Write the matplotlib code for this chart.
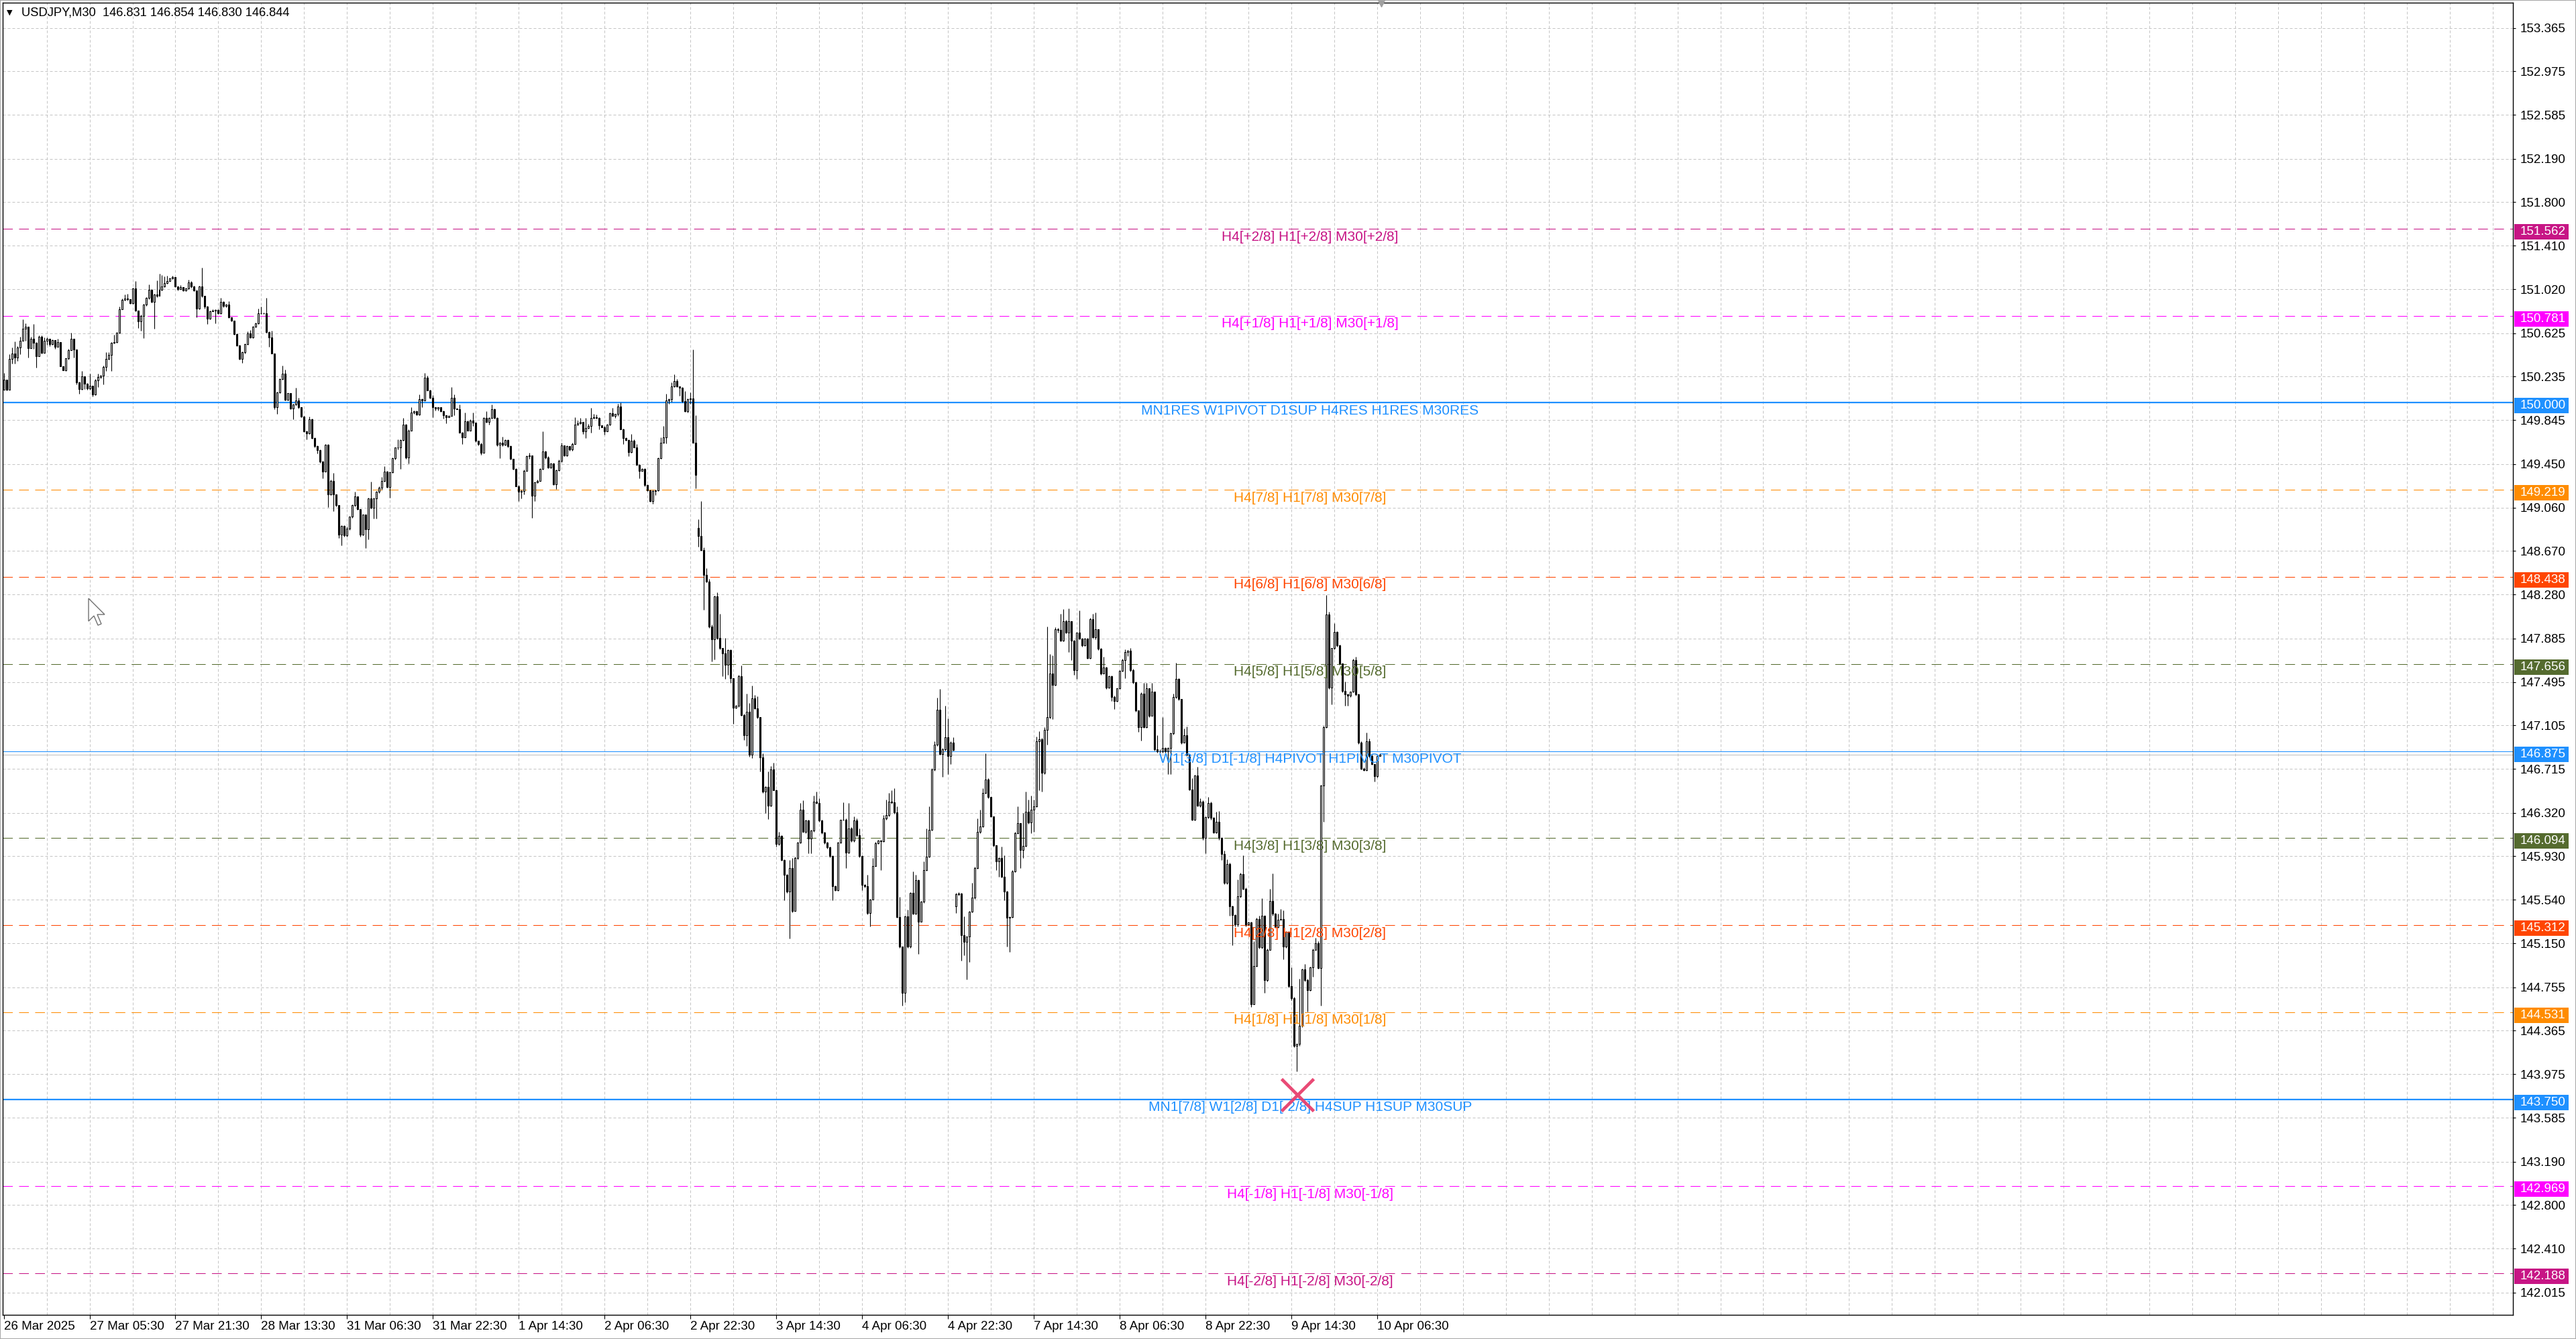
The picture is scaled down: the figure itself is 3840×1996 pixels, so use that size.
import numpy as np
import matplotlib
matplotlib.use("Agg")
import matplotlib.pyplot as plt
from matplotlib.patches import Rectangle, Polygon
from matplotlib.transforms import blended_transform_factory, offset_copy

# ---------------- data ----------------
symbol = "USDJPY,M30"
header_ohlc = "146.831 146.854 146.830 146.844"

closes = [
    150.210, 150.120, 150.394, 150.440, 150.404, 150.495, 150.555, 150.665, 150.685, 150.489,
    150.575, 150.541, 150.420, 150.595, 150.450, 150.555, 150.575, 150.525, 150.565, 150.505,
    150.545, 150.330, 150.294, 150.400, 150.475, 150.575, 150.481, 150.183, 150.123, 150.240,
    150.173, 150.127, 150.153, 150.073, 150.204, 150.234, 150.244, 150.324, 150.394, 150.428,
    150.541, 150.545, 150.629, 150.842, 150.926, 150.936, 150.930, 150.896, 151.026, 150.826,
    150.729, 150.782, 150.882, 150.940, 151.016, 150.906, 150.970, 150.962, 151.016, 151.042,
    151.077, 151.091, 151.117, 151.131, 151.042, 151.020, 151.036, 151.006, 151.026, 151.083,
    151.042, 151.010, 150.846, 151.042, 150.962, 150.866, 150.755, 150.822, 150.830, 150.836,
    150.806, 150.906, 150.870, 150.882, 150.765, 150.735, 150.615, 150.515, 150.394, 150.454,
    150.525, 150.625, 150.585, 150.685, 150.715, 150.806, 150.802, 150.802, 150.635, 150.585,
    150.440, 149.963, 150.093, 150.214, 150.260, 150.027, 150.087, 149.947, 149.983, 150.023,
    149.959, 149.878, 149.746, 149.726, 149.853, 149.686, 149.612, 149.577, 149.471, 149.385,
    149.622, 149.176, 149.301, 149.176, 149.080, 148.819, 148.895, 148.809, 148.869, 148.979,
    149.080, 149.160, 149.044, 148.819, 148.999, 148.863, 149.144, 149.060, 149.140, 149.204,
    149.240, 149.297, 149.381, 149.244, 149.377, 149.501, 149.598, 149.600, 149.666, 149.806,
    149.511, 149.752, 149.913, 149.927, 149.893, 150.033, 150.020, 150.228, 150.113, 150.043,
    149.959, 149.947, 149.959, 149.923, 149.889, 149.873, 149.883, 150.047, 149.947, 149.943,
    149.732, 149.692, 149.832, 149.752, 149.842, 149.820, 149.658, 149.632, 149.551, 149.866,
    149.826, 149.863, 149.943, 149.863, 149.622, 149.642, 149.622, 149.666, 149.612, 149.497,
    149.405, 149.250, 149.200, 149.210, 149.391, 149.521, 149.530, 149.164, 149.285, 149.301,
    149.405, 149.565, 149.511, 149.421, 149.457, 149.270, 149.397, 149.481, 149.618, 149.525,
    149.612, 149.580, 149.632, 149.802, 149.816, 149.826, 149.746, 149.772, 149.792, 149.866,
    149.873, 149.863, 149.798, 149.782, 149.746, 149.802, 149.907, 149.883, 149.899, 149.967,
    149.762, 149.682, 149.666, 149.557, 149.662, 149.602, 149.445, 149.391, 149.405, 149.264,
    149.216, 149.120, 149.210, 149.216, 149.501, 149.642, 149.692, 150.023, 150.033, 150.147,
    150.194, 150.147, 150.133, 150.013, 149.923, 150.033, 150.040, 149.642, 149.351, 148.802,
    148.676, 148.458, 148.398, 147.993, 147.880, 148.263, 147.889, 147.799, 147.754, 147.649,
    147.784, 147.529, 147.266, 147.281, 147.544, 147.200, 147.014, 147.230, 146.840, 147.349,
    147.260, 147.179, 146.819, 146.511, 146.556, 146.382, 146.712, 146.526, 146.041, 146.113,
    145.897, 145.762, 145.612, 145.822, 145.442, 145.912, 146.053, 146.346, 146.152, 146.250,
    146.092, 146.161, 146.421, 146.406, 146.250, 146.143, 146.053, 146.011, 145.933, 145.663,
    145.627, 146.053, 146.256, 146.260, 145.963, 146.182, 146.071, 146.250, 146.122, 145.933,
    145.672, 145.663, 145.424, 145.544, 145.843, 146.047, 146.071, 146.065, 146.271, 146.301,
    146.421, 146.412, 146.322, 145.388, 145.118, 144.705, 145.394, 145.118, 145.603, 145.418,
    145.717, 145.343, 145.523, 145.807, 145.927, 146.167, 146.712, 146.930, 147.245, 146.849,
    146.891, 147.000, 146.831, 146.951, 146.885, 145.591, 145.597, 145.223, 145.163, 145.208,
    145.433, 145.562, 145.822, 146.152, 146.197, 146.496, 146.622, 146.460, 146.286, 146.032,
    145.882, 145.912, 145.747, 145.612, 145.382, 145.388, 145.792, 146.137, 146.226, 145.987,
    146.023, 146.331, 146.232, 146.346, 146.376, 146.960, 146.981, 146.682, 147.065, 147.179,
    147.573, 147.471, 147.967, 147.960, 147.865, 148.040, 147.938, 148.040, 147.865, 147.602,
    147.938, 147.885, 147.821, 147.885, 147.710, 148.060, 147.894, 147.967, 147.792, 147.573,
    147.622, 147.442, 147.544, 147.360, 147.325, 147.436, 147.593, 147.690, 147.763, 147.777,
    147.602, 147.494, 147.237, 147.086, 147.389, 147.091, 147.436, 147.194, 147.407, 146.893,
    146.873, 146.870, 146.902, 146.873, 146.902, 147.033, 147.360, 147.523, 147.339, 146.951,
    147.018, 146.843, 146.531, 146.260, 146.654, 146.385, 146.420, 146.093, 146.280, 146.406,
    146.274, 146.143, 146.239, 146.093, 145.953, 145.691, 145.860, 145.481, 145.405, 145.317,
    145.574, 145.772, 145.638, 145.317, 145.335, 144.605, 144.947, 145.370, 145.113, 145.399,
    144.821, 145.093, 145.530, 145.414, 145.297, 145.364, 145.370, 145.122, 145.253, 144.763,
    144.655, 144.232, 144.246, 144.407, 144.917, 144.821, 144.728, 144.932, 145.093, 145.151,
    144.926, 146.566, 147.091, 148.098, 147.442, 147.798, 147.944, 147.821, 147.660, 147.412,
    147.383, 147.369, 147.407, 147.690, 147.383, 146.951, 146.718, 146.706, 146.960, 146.829,
    146.756, 146.648, 146.831, 146.844,
]

highs = [
    150.270, 150.210, 150.434, 150.495, 150.549, 150.509, 150.595, 150.749, 150.715, 150.685,
    150.595, 150.709, 150.545, 150.605, 150.605, 150.585, 150.589, 150.565, 150.570, 150.545,
    150.575, 150.545, 150.330, 150.400, 150.485, 150.629, 150.575, 150.481, 150.190, 150.284,
    150.240, 150.180, 150.264, 150.153, 150.214, 150.264, 150.250, 150.334, 150.454, 150.454,
    150.545, 150.609, 150.635, 150.862, 150.936, 150.970, 150.976, 150.930, 151.030, 151.093,
    150.830, 150.790, 150.890, 150.950, 151.062, 151.020, 150.980, 151.097, 151.157, 151.147,
    151.137, 151.143, 151.120, 151.143, 151.130, 151.040, 151.056, 151.040, 151.030, 151.107,
    151.090, 151.050, 151.010, 151.050, 151.213, 150.960, 150.870, 150.830, 150.840, 150.840,
    150.840, 150.942, 150.910, 150.890, 150.910, 150.770, 150.740, 150.620, 150.520, 150.460,
    150.530, 150.641, 150.655, 150.690, 150.720, 150.846, 150.866, 150.810, 150.940, 150.640,
    150.649, 150.440, 150.100, 150.220, 150.334, 150.300, 150.090, 150.090, 149.990, 150.133,
    150.043, 149.960, 149.880, 149.750, 149.878, 149.860, 149.690, 149.620, 149.580, 149.480,
    149.630, 149.630, 149.310, 149.371, 149.180, 149.080, 148.900, 148.900, 148.889, 148.980,
    149.090, 149.200, 149.160, 149.040, 149.000, 148.999, 149.150, 149.291, 149.150, 149.210,
    149.250, 149.337, 149.431, 149.390, 149.380, 149.510, 149.600, 149.672, 149.670, 149.866,
    149.810, 149.760, 149.959, 149.930, 149.930, 150.073, 150.040, 150.268, 150.244, 150.120,
    150.067, 149.960, 149.960, 149.960, 149.930, 149.890, 149.890, 150.143, 150.073, 149.950,
    149.983, 149.740, 149.913, 149.840, 149.850, 149.913, 149.820, 149.660, 149.640, 149.870,
    149.923, 149.870, 149.987, 149.950, 149.870, 149.650, 149.698, 149.670, 149.670, 149.620,
    149.500, 149.410, 149.260, 149.220, 149.400, 149.530, 149.551, 149.530, 149.290, 149.310,
    149.410, 149.742, 149.570, 149.520, 149.460, 149.460, 149.400, 149.490, 149.642, 149.620,
    149.620, 149.610, 149.640, 149.873, 149.842, 149.863, 149.830, 149.863, 149.812, 149.953,
    149.899, 149.893, 149.870, 149.800, 149.790, 149.810, 149.910, 149.953, 149.900, 149.993,
    150.003, 149.770, 149.690, 149.670, 149.722, 149.670, 149.630, 149.450, 149.410, 149.410,
    149.270, 149.220, 149.220, 149.220, 149.510, 149.692, 149.792, 150.083, 150.040, 150.183,
    150.254, 150.214, 150.150, 150.140, 150.103, 150.040, 150.093, 150.481, 149.887, 148.958,
    149.117, 148.700, 148.515, 148.420, 148.010, 148.270, 148.299, 148.107, 147.800, 147.889,
    147.790, 147.790, 147.530, 147.290, 147.559, 147.640, 147.210, 147.388, 147.305, 147.460,
    147.379, 147.364, 147.180, 146.855, 146.560, 146.691, 146.742, 146.772, 146.530, 146.152,
    146.120, 145.900, 145.770, 145.897, 145.912, 145.927, 146.060, 146.406, 146.430, 146.260,
    146.260, 146.170, 146.472, 146.511, 146.451, 146.260, 146.150, 146.060, 146.020, 145.940,
    145.670, 146.060, 146.260, 146.412, 146.270, 146.406, 146.190, 146.286, 146.271, 146.182,
    145.940, 145.680, 145.762, 145.550, 145.912, 146.062, 146.080, 146.080, 146.301, 146.436,
    146.496, 146.520, 146.541, 146.376, 145.568, 145.120, 145.400, 145.454, 145.610, 145.792,
    145.762, 145.720, 145.530, 145.882, 146.182, 146.376, 146.720, 146.960, 147.355, 147.430,
    146.900, 147.281, 147.170, 146.960, 146.996, 145.600, 145.610, 145.600, 145.390, 145.210,
    145.440, 145.693, 145.837, 146.271, 146.346, 146.541, 146.855, 146.630, 146.460, 146.290,
    146.030, 145.920, 146.017, 145.942, 145.620, 145.390, 145.807, 146.152, 146.376, 146.230,
    146.316, 146.511, 146.436, 146.472, 146.436, 147.005, 147.050, 146.990, 147.089, 147.990,
    147.748, 147.733, 147.987, 147.980, 148.107, 148.148, 148.050, 148.157, 148.040, 147.870,
    147.940, 148.136, 147.890, 147.890, 147.890, 148.069, 148.107, 148.119, 147.970, 147.800,
    147.719, 147.630, 147.550, 147.550, 147.370, 147.440, 147.600, 147.700, 147.786, 147.780,
    147.798, 147.610, 147.500, 147.240, 147.400, 147.485, 147.485, 147.440, 147.485, 147.410,
    147.018, 146.890, 147.179, 146.910, 146.910, 147.040, 147.389, 147.669, 147.530, 147.340,
    147.077, 147.097, 146.850, 146.630, 146.660, 146.736, 146.449, 146.435, 146.290, 146.464,
    146.420, 146.280, 146.333, 146.339, 146.100, 145.980, 145.901, 145.870, 145.490, 145.410,
    145.720, 145.780, 145.939, 145.650, 145.340, 145.340, 145.166, 145.380, 145.399, 145.551,
    145.400, 145.100, 145.638, 145.778, 145.420, 145.414, 145.457, 145.443, 145.260, 145.260,
    144.932, 144.670, 144.250, 144.830, 144.920, 144.961, 144.830, 144.940, 145.100, 145.201,
    145.170, 146.570, 147.100, 148.273, 148.127, 147.800, 148.025, 147.950, 147.830, 147.660,
    147.500, 147.390, 147.410, 147.700, 147.719, 147.390, 146.960, 146.730, 147.039, 146.989,
    146.840, 146.760, 146.844, 146.854,
]

lows = [
    150.120, 150.110, 150.120, 150.354, 150.354, 150.374, 150.434, 150.555, 150.555, 150.404,
    150.489, 150.485, 150.314, 150.420, 150.440, 150.450, 150.521, 150.510, 150.520, 150.485,
    150.500, 150.330, 150.290, 150.284, 150.390, 150.475, 150.404, 150.167, 150.083, 150.120,
    150.123, 150.120, 150.120, 150.059, 150.070, 150.143, 150.220, 150.163, 150.284, 150.390,
    150.284, 150.530, 150.540, 150.625, 150.840, 150.920, 150.920, 150.890, 150.890, 150.820,
    150.669, 150.645, 150.579, 150.870, 150.930, 150.900, 150.665, 150.950, 150.960, 151.010,
    151.040, 151.070, 151.090, 151.110, 151.040, 151.010, 151.020, 151.000, 151.000, 151.020,
    151.030, 151.000, 150.765, 150.840, 150.950, 150.846, 150.705, 150.750, 150.820, 150.715,
    150.800, 150.800, 150.860, 150.860, 150.760, 150.730, 150.610, 150.510, 150.390, 150.360,
    150.440, 150.520, 150.580, 150.580, 150.680, 150.710, 150.800, 150.800, 150.630, 150.505,
    150.440, 149.943, 149.903, 150.090, 150.210, 150.020, 150.020, 149.940, 149.853, 149.980,
    149.950, 149.870, 149.740, 149.672, 149.720, 149.680, 149.600, 149.545, 149.460, 149.321,
    149.380, 149.064, 149.170, 149.030, 149.070, 148.789, 148.719, 148.800, 148.800, 148.860,
    148.970, 149.070, 149.040, 148.800, 148.810, 148.699, 148.775, 149.050, 148.963, 148.960,
    149.190, 149.220, 149.290, 149.240, 149.150, 149.370, 149.490, 149.580, 149.405, 149.660,
    149.500, 149.457, 149.750, 149.900, 149.890, 149.890, 149.959, 150.020, 150.110, 150.040,
    149.873, 149.930, 149.930, 149.920, 149.859, 149.818, 149.870, 149.880, 149.890, 149.940,
    149.730, 149.632, 149.690, 149.750, 149.750, 149.790, 149.650, 149.620, 149.531, 149.550,
    149.820, 149.806, 149.860, 149.860, 149.610, 149.501, 149.610, 149.620, 149.600, 149.490,
    149.400, 149.250, 149.120, 149.140, 149.176, 149.390, 149.500, 148.969, 149.120, 149.280,
    149.300, 149.400, 149.500, 149.410, 149.410, 149.260, 149.224, 149.390, 149.470, 149.520,
    149.520, 149.570, 149.570, 149.630, 149.800, 149.810, 149.722, 149.686, 149.770, 149.732,
    149.860, 149.860, 149.762, 149.780, 149.712, 149.746, 149.800, 149.880, 149.866, 149.880,
    149.760, 149.632, 149.660, 149.521, 149.550, 149.600, 149.440, 149.321, 149.390, 149.250,
    149.210, 149.110, 149.096, 149.170, 149.210, 149.500, 149.640, 149.638, 149.990, 150.010,
    150.140, 150.140, 150.063, 150.000, 149.920, 149.913, 149.990, 149.640, 149.230, 148.706,
    148.670, 148.143, 148.390, 147.980, 147.679, 147.694, 147.880, 147.790, 147.544, 147.520,
    147.559, 147.484, 147.119, 147.260, 147.270, 147.190, 146.975, 146.921, 146.825, 146.810,
    147.250, 147.170, 146.691, 146.500, 146.316, 146.262, 146.380, 146.520, 146.017, 146.030,
    145.890, 145.538, 145.600, 145.193, 145.430, 145.440, 145.900, 146.050, 146.150, 146.140,
    145.957, 145.957, 146.150, 146.400, 146.240, 146.130, 146.040, 146.000, 145.920, 145.538,
    145.620, 145.620, 146.050, 146.250, 145.822, 145.960, 146.060, 146.060, 146.110, 145.920,
    145.627, 145.650, 145.410, 145.298, 145.540, 145.840, 146.040, 145.807, 146.060, 146.260,
    146.290, 146.400, 146.310, 145.380, 145.110, 144.590, 144.620, 145.110, 145.110, 145.410,
    145.410, 145.052, 145.340, 145.510, 145.800, 145.920, 146.160, 146.700, 146.920, 146.840,
    146.646, 146.880, 146.670, 146.760, 146.880, 145.424, 145.580, 144.993, 145.043, 144.825,
    144.984, 145.430, 145.550, 145.820, 146.140, 146.190, 146.490, 146.450, 146.280, 146.017,
    145.807, 145.747, 145.740, 145.538, 145.118, 145.073, 145.380, 145.790, 146.130, 145.822,
    145.912, 146.020, 146.220, 146.137, 146.150, 146.370, 146.526, 146.511, 146.670, 146.930,
    147.170, 147.164, 147.460, 147.940, 147.860, 147.860, 147.930, 147.763, 147.690, 147.558,
    147.523, 147.880, 147.810, 147.820, 147.700, 147.700, 147.890, 147.880, 147.780, 147.560,
    147.570, 147.430, 147.440, 147.325, 147.252, 147.320, 147.430, 147.590, 147.529, 147.730,
    147.590, 147.480, 147.230, 147.048, 146.969, 147.080, 147.080, 147.180, 147.190, 146.880,
    146.860, 146.860, 146.860, 146.860, 146.668, 146.668, 147.020, 147.350, 147.330, 146.940,
    146.950, 146.830, 146.520, 146.250, 146.250, 146.380, 146.370, 146.080, 145.959, 146.270,
    146.260, 146.140, 146.140, 146.080, 145.895, 145.680, 145.680, 145.399, 145.131, 145.300,
    145.300, 145.560, 145.630, 145.300, 145.310, 144.576, 144.610, 144.940, 145.100, 145.100,
    144.704, 144.810, 145.090, 145.400, 145.290, 145.290, 145.360, 145.005, 145.110, 144.750,
    144.640, 144.220, 143.998, 144.230, 144.400, 144.810, 144.538, 144.720, 144.850, 145.090,
    144.920, 144.588, 146.239, 147.080, 147.430, 147.296, 147.790, 147.810, 147.650, 147.400,
    147.281, 147.281, 147.360, 147.400, 147.370, 146.940, 146.710, 146.700, 146.700, 146.820,
    146.750, 146.601, 146.640, 146.830,
]

# opens differ from the previous close only at these bars (start / weekend / news gaps)
gap_opens = {0: 150.120, 259: 148.877, 355: 145.484, 513: 146.831}

time_labels = ["26 Mar 2025", "27 Mar 05:30", "27 Mar 21:30", "28 Mar 13:30",
               "31 Mar 06:30", "31 Mar 22:30", "1 Apr 14:30", "2 Apr 06:30",
               "2 Apr 22:30", "3 Apr 14:30", "4 Apr 06:30", "4 Apr 22:30",
               "7 Apr 14:30", "8 Apr 06:30", "8 Apr 22:30", "9 Apr 14:30",
               "10 Apr 06:30"]
bars_per_label = 32
bars_per_grid = 16
visible_bars = 935.5

price_ticks = [153.365, 152.975, 152.585, 152.190, 151.800, 151.410, 151.020, 150.625,
               150.235, 149.845, 149.450, 149.060, 148.670, 148.280, 147.885, 147.495,
               147.105, 146.715, 146.320, 145.930, 145.540, 145.150, 144.755, 144.365,
               143.975, 143.585, 143.190, 142.800, 142.410, 142.015]
price_min, price_max = 141.815, 153.591

level_prices = [151.562, 150.781, 150.000, 149.219, 148.438, 147.656, 146.875,
                146.094, 145.312, 144.531, 143.750, 142.969, 142.188]
level_colors = ["#C71585", "#FF00FF", "#1E90FF", "#FF8C00", "#FF4500", "#556B2F", "#1E90FF",
                "#556B2F", "#FF4500", "#FF8C00", "#1E90FF", "#FF00FF", "#C71585"]
level_solid = [False, False, True, False, False, False, True,
               False, False, False, True, False, False]
level_width = [0.75, 0.75, 1.6, 0.75, 0.75, 0.75, 0.75,
               0.75, 0.75, 0.75, 1.6, 0.75, 0.75]
level_texts = ["H4[+2/8] H1[+2/8] M30[+2/8]",
               "H4[+1/8] H1[+1/8] M30[+1/8]",
               "MN1RES W1PIVOT D1SUP H4RES H1RES M30RES",
               "H4[7/8] H1[7/8] M30[7/8]",
               "H4[6/8] H1[6/8] M30[6/8]",
               "H4[5/8] H1[5/8] M30[5/8]",
               "W1[3/8] D1[-1/8] H4PIVOT H1PIVOT M30PIVOT",
               "H4[3/8] H1[3/8] M30[3/8]",
               "H4[2/8] H1[2/8] M30[2/8]",
               "H4[1/8] H1[1/8] M30[1/8]",
               "MN1[7/8] W1[2/8] D1[-2/8] H4SUP H1SUP M30SUP",
               "H4[-1/8] H1[-1/8] M30[-1/8]",
               "H4[-2/8] H1[-2/8] M30[-2/8]"]
level_label_bar = 487
bid_price = 146.844
signal_bar = 482.4
signal_price = 143.79

# ---------------- figure ----------------
W, H = 3840, 1996
FONT = ["Liberation Sans", "DejaVu Sans"]
fig = plt.figure(figsize=(W / 100, H / 100), dpi=100)
fig.patch.set_facecolor("white")
ax_l, ax_r, ax_t, ax_b = 4, 3746, 4, 1960
ax = fig.add_axes([ax_l / W, 1 - ax_b / H, (ax_r - ax_l) / W, (ax_b - ax_t) / H])
ax.set_facecolor("white")

n = min(len(closes), len(highs), len(lows))
c = np.array(closes[:n])
o = np.array([gap_opens.get(i, closes[i - 1] if i > 0 else closes[0]) for i in range(n)])
h = np.maximum.reduce([np.array(highs[:n]), o, c])
l = np.minimum.reduce([np.array(lows[:n]), o, c])
x = np.arange(n)

ax.set_xlim(-0.4, visible_bars)
ax.set_ylim(price_min, price_max)

grid_kw = dict(color="#C4C4C4", lw=0.72, ls=(0, (4, 3)), zorder=1)
for yv in price_ticks:
    ax.axhline(yv, **grid_kw)
for xv in np.arange(bars_per_grid, visible_bars, bars_per_grid):
    ax.axvline(xv, **grid_kw)

# level lines
for p, col, solid, lw in zip(level_prices, level_colors, level_solid, level_width):
    ax.axhline(p, color=col, lw=lw, ls="-" if solid else (0, (14, 9)), zorder=2)
ax.axhline(bid_price, color="#C0C0C0", lw=0.75, zorder=2)

# candles
up = c >= o
ax.vlines(x, l, h, color="black", lw=0.8, zorder=3)
bottom = np.minimum(o, c)
height = np.abs(c - o)
ax.bar(x[up], height[up], bottom=bottom[up], width=0.5, facecolor="white",
       edgecolor="black", linewidth=0.8, zorder=4)
ax.bar(x[~up], height[~up], bottom=bottom[~up], width=0.5, facecolor="black",
       edgecolor="black", linewidth=0.8, zorder=4)

# level labels
for p, col, txt in zip(level_prices, level_colors, level_texts):
    ax.annotate(txt, xy=(level_label_bar, p), xytext=(0, -12), textcoords="offset pixels",
                ha="center", va="center", color=col, fontsize=15, family=FONT, zorder=6)

# signal cross
ax.plot([signal_bar], [signal_price], marker="x", ms=34, mew=3.4, color="#E8406E",
        alpha=0.95, zorder=7, linestyle="none")

# shift marker at top
ax.plot([n - 0.5], [1.0], marker="v", ms=9, color="#A0A0A0", zorder=8, clip_on=False,
        transform=blended_transform_factory(ax.transData, ax.transAxes))

# axes styling
for s in ax.spines.values():
    s.set_color("black")
    s.set_linewidth(1.0)
ax.yaxis.tick_right()
ax.set_yticks(price_ticks)
ax.set_yticklabels([f"{p:.3f}" for p in price_ticks])
ax.tick_params(axis="y", direction="out", length=3, width=0.8, pad=4.5,
               labelsize=13.5, colors="black")
ax.set_xticks(np.arange(len(time_labels)) * bars_per_label)
ax.set_xticklabels(time_labels)
ax.tick_params(axis="x", direction="out", length=4, width=0.8, pad=2.5,
               labelsize=13.5, colors="black")
for t in ax.get_xticklabels() + ax.get_yticklabels():
    t.set_family(FONT)
for t in ax.get_xticklabels():
    t.set_ha("left")

# price boxes on the right scale (box sits slightly below its line, as in MT4)
trans = blended_transform_factory(fig.transFigure, ax.transData)
px_per_price = (ax_b - ax_t) / (price_max - price_min)
box_up, box_down = 7 / px_per_price, 16 / px_per_price
for p, col in zip(level_prices, level_colors):
    fig.add_artist(Rectangle((3748 / W, p - box_down), 81 / W, box_up + box_down,
                             transform=trans, facecolor=col, edgecolor="none", zorder=10))
    fig.text(3757 / W, p - (box_down - box_up) / 2, f"{p:.3f}", transform=trans,
             color="white", fontsize=13.5, family=FONT, va="center", ha="left", zorder=11)

# header
fig.text(10 / W, 1 - 19 / H, "\u25BC", fontsize=8, family=["DejaVu Sans"], va="center")
fig.text(32 / W, 1 - 19 / H, f"{symbol}  {header_ohlc}", fontsize=13.2, family=FONT,
         va="center", ha="left", color="black")

# mouse pointer left on the screenshot
cursor_shape = np.array([[0, 0], [0, 34], [8, 26], [14, 40], [19, 38], [13, 24], [24, 24]])
tip_x, tip_y = 132, 892
cursor_xy = np.column_stack([(tip_x + cursor_shape[:, 0]) / W, 1 - (tip_y + cursor_shape[:, 1]) / H])
fig.add_artist(Polygon(cursor_xy, closed=True, transform=fig.transFigure,
                       facecolor="white", edgecolor="#707070", lw=1.0, zorder=15))

# outer window frame
fig.add_artist(Rectangle((0, 0), 1, 1, transform=fig.transFigure, fill=False,
                         edgecolor="#A8A8A8", lw=1.5, zorder=20))

fig.savefig("out.png", dpi=100, facecolor="white")
